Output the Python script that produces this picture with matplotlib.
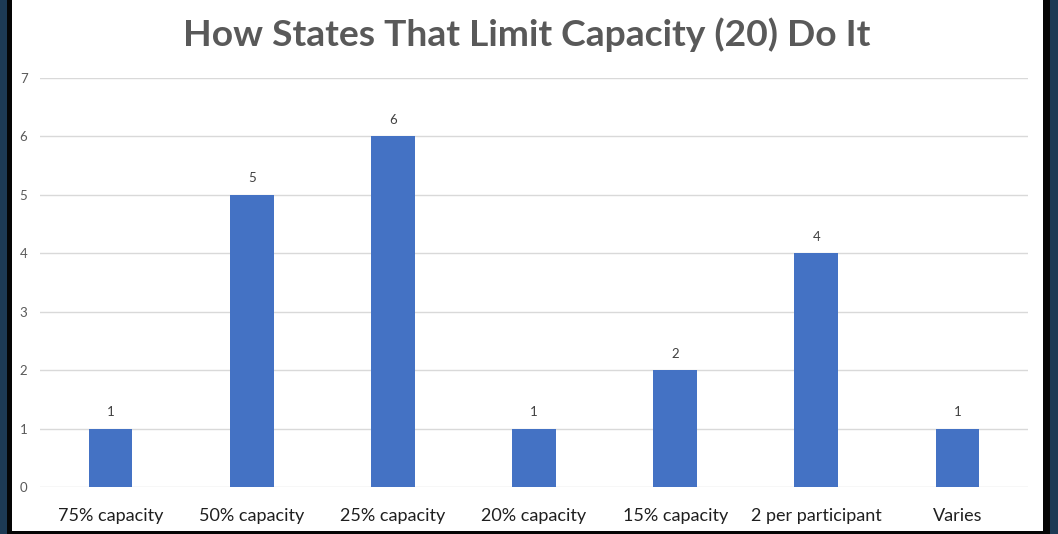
import matplotlib.pyplot as plt
from matplotlib.patches import Rectangle

categories = ["75% capacity", "50% capacity", "25% capacity", "20% capacity",
              "15% capacity", "2 per participant", "Varies"]
counts = [1, 5, 6, 1, 2, 4, 1]
y_ticks = [0, 1, 2, 3, 4, 5, 6, 7]

W, H = 1058, 534
fig = plt.figure(figsize=(W / 100, H / 100), dpi=100, facecolor="#1d3a54")

# screenshot frame: black edge then white slide area
fig.patches.append(Rectangle((7 / W, 0), (1050 - 7) / W, 1, transform=fig.transFigure,
                             facecolor="#050505", edgecolor="none", zorder=-2))
fig.patches.append(Rectangle((11.5 / W, 3 / H), (1043 - 11.5) / W, 1, transform=fig.transFigure,
                             facecolor="white", edgecolor="none", zorder=-1))

ax = fig.add_axes([40 / W, 47 / H, (1028 - 40) / W, (487 - 78) / H])
ax.set_facecolor("none")

x = range(len(categories))
ax.bar(x, counts, width=0.31, color="#4472C4", zorder=3)
for xi, v in zip(x, counts):
    ax.annotate(str(v), (xi, v), xytext=(0, 7.5), textcoords="offset points",
                ha="center", va="bottom", fontsize=9.5, color="#404040", family="Lato")

ax.set_xlim(-0.5, len(categories) - 0.5)
ax.set_ylim(0, 7)
ax.set_yticks(y_ticks)
ax.set_xticks(list(x))
ax.set_xticklabels(categories, fontsize=13, color="#1f1f1f", family="Lato")
for lbl in ax.get_yticklabels():
    lbl.set_family("Lato")
ax.tick_params(axis="y", length=0, pad=9, labelsize=9.5, labelcolor="#595959")
ax.tick_params(axis="x", length=0, pad=15)
ax.grid(axis="y", color="#d9d9d9", linewidth=1, zorder=0)
for s in ax.spines.values():
    s.set_visible(False)

fig.text(527 / W, 1 - 35 / H, "How States That Limit Capacity (20) Do It",
         ha="center", va="center", fontsize=26.8, fontweight="bold",
         color="#595959", family="Lato")

fig.savefig("out.png", dpi=100, facecolor=fig.get_facecolor())
